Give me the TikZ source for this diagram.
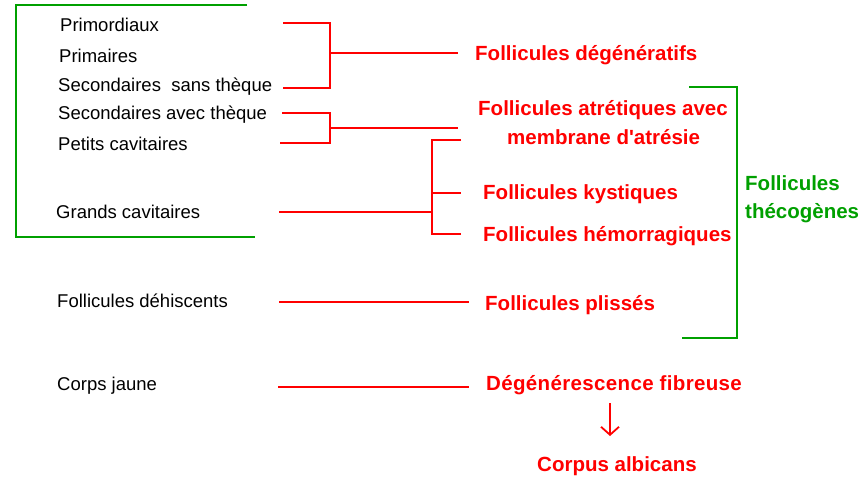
\documentclass[tikz,border=0pt]{standalone}
\usepackage{fontspec}
\setmainfont{Liberation Sans}
\usetikzlibrary{arrows.meta}
\definecolor{lred}{RGB}{255,0,0}
\definecolor{lgreen}{RGB}{0,160,0}
\begin{document}
\begin{tikzpicture}[x=1pt,y=-1pt,
  stage/.style={anchor=base west,inner sep=0pt,font=\fontsize{18.5}{22}\selectfont,text=black},
  fate/.style={anchor=base west,inner sep=0pt,font=\fontsize{20.5}{24}\selectfont\bfseries,text=lred},
  group/.style={anchor=base west,inner sep=0pt,font=\fontsize{20.5}{24}\selectfont\bfseries,text=lgreen},
  link/.style={draw=lred,line width=2pt},
  brace/.style={draw=lgreen,line width=2pt}]
\useasboundingbox[fill=white] (0,0) rectangle (866,480);

% follicle stages
\node[stage] (prim)  at (60,31.7)  {Primordiaux};
\node[stage] (pri)   at (59,62.7)  {Primaires};
\node[stage] (secs)  at (58,91.7)  {Secondaires\ \ sans thèque};
\node[stage] (seca)  at (58,119.3) {Secondaires avec thèque};
\node[stage] (pcav)  at (58,150)   {Petits cavitaires};
\node[stage] (gcav)  at (56,218.3) {Grands cavitaires};
\node[stage] (dehi)  at (57,307)   {Follicules déhiscents};
\node[stage] (cj)    at (57,390.7) {Corps jaune};

% fates
\node[fate] (deg)  at (475,60.7)  {Follicules dégénératifs};
\node[fate] (atr1) at (478,115)   {Follicules atrétiques avec};
\node[fate] (atr2) at (507,144)   {membrane d\textquotesingle atrésie};
\node[fate] (kys)  at (483,199.3) {Follicules kystiques};
\node[fate] (hem)  at (483,241.7) {Follicules hémorragiques};
\node[fate] (pli)  at (485,310)   {Follicules plissés};
\node[fate] (fib)  at (486,390.7) {\addfontfeatures{LetterSpace=1.7}Dégénérescence fibreuse};
\node[fate] (alb)  at (537,471.7) {Corpus albicans};

% green group label
\node[group] (the1) at (745,190.7) {Follicules};
\node[group] (the2) at (745,218.3) {thécogènes};

% bracket joints and free ends
\coordinate (a1) at (283,23.3);  \coordinate (a2) at (283,88);
\coordinate (aj) at (330,53);    \coordinate (ae) at (458,53);
\coordinate (b1) at (282,112.7); \coordinate (b2) at (280,142.7);
\coordinate (bj) at (330,127.7); \coordinate (be) at (458,127.7);
\coordinate (c0) at (279,212);   \coordinate (cj) at (432,212);
\coordinate (c1) at (461,140);   \coordinate (c2) at (461,193);
\coordinate (c3) at (461,234);
\coordinate (d0) at (279,302);   \coordinate (d1) at (469,302);
\coordinate (e0) at (278,387);   \coordinate (e1) at (469,387);
\coordinate (f0) at (610,403);   \coordinate (f1) at (610,436);

% red links
\draw[link] (a1) -| (aj) |- (a2);
\draw[link] (aj) -- (ae);
\draw[link] (b1) -| (bj) |- (b2);
\draw[link] (bj) -- (be);
\draw[link] (c0) -- (cj);
\draw[link] (c1) -| (cj) |- (c3);
\draw[link] (cj |- c2) -- (c2);
\draw[link] (d0) -- (d1);
\draw[link] (e0) -- (e1);
\draw[draw=lred,line width=1.8pt,-{Straight Barb[length=8pt,width=18pt]}] (f0) -- (f1);

% green brackets
\draw[brace] (247,4.5) -- (16,4.5) -- (16,237) -- (255,237);
\draw[brace] (689,87) -- (737,87) -- (737,338) -- (682,338);
\end{tikzpicture}
\end{document}
